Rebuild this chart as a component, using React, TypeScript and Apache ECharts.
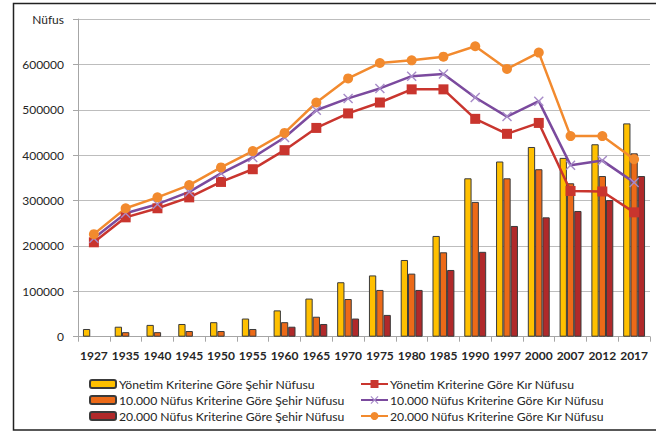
import React, { useEffect, useRef } from "react";
import * as echarts from "echarts";

const years = ["1927","1935","1940","1945","1950","1955","1960","1965","1970","1975","1980","1985","1990","1997","2000","2007","2012","2017"];

const yonetimSehir = [17000, 22000, 26000, 28000, 32000, 40000, 58000, 84000, 120000, 135000, 169000, 222000, 349000, 386000, 418000, 394000, 424000, 470000];
const sehir10k = [null, 10000, 10000, 12500, 12500, 17000, 32000, 44000, 83000, 103000, 139000, 186000, 297000, 349000, 369000, 338000, 354000, 404000];
const sehir20k = [null, null, null, null, null, null, 22000, 28000, 40000, 48000, 103000, 147000, 187000, 244000, 263000, 277000, 301000, 354000];

const yonetimKir = [208000, 263000, 283000, 307000, 341000, 369000, 411000, 460000, 492000, 516000, 545000, 545000, 480000, 447000, 471000, 321000, 320000, 274000];
const kir10k = [217000, 272000, 292000, 319000, 360000, 395000, 439000, 499000, 525000, 547000, 574000, 579000, 527000, 485000, 519000, 378000, 388000, 340000];
const kir20k = [226000, 283000, 307000, 334000, 373000, 409000, 449000, 516000, 569000, 603000, 609000, 617000, 640000, 590000, 626000, 442000, 442000, 391000];

const names = [
  "Yönetim Kriterine Göre Şehir Nüfusu",
  "10.000 Nüfus Kriterine Göre Şehir Nüfusu",
  "20.000 Nüfus Kriterine Göre Şehir Nüfusu",
  "Yönetim Kriterine Göre Kır Nüfusu",
  "10.000 Nüfus Kriterine Göre Kır Nüfusu",
  "20.000 Nüfus Kriterine Göre Kır Nüfusu",
];

const FONT = "Lato";
const TEXT = "#262626";

export default function App() {
  const ref = useRef<HTMLDivElement>(null);
  useEffect(() => {
    if (!ref.current) return;
    const chart = echarts.init(ref.current, undefined, { renderer: "svg" });
    const crossPath =
      "path://M0,1L1,0L5,4L9,0L10,1L6,5L10,9L9,10L5,6L1,10L0,9L4,5Z";
    const barCommon = (name: string, data: any[], color: string) => ({
      name,
      type: "bar",
      data,
      barWidth: 7.3,
      barGap: "0%",
      itemStyle: { color, borderColor: "#3a3a3a", borderWidth: 1 },
    });
    const lineCommon = (name: string, data: number[], color: string, symbol: string, symColor: string, size: number) => ({
      name,
      type: "line",
      data,
      symbol,
      symbolSize: size,
      lineStyle: { color, width: 2.5 },
      itemStyle: { color: symColor },
    });
    chart.setOption({
      animation: false,
      textStyle: { fontFamily: FONT },
      grid: { left: 78, right: 6, top: 19, bottom: 95.3 },
      graphic: [
        {
          type: "rect",
          shape: { x: 13.5, y: 3.5, width: 700, height: 426.5 },
          style: { fill: "none", stroke: "#222", lineWidth: 1.5 },
          silent: true,
        },
      ],
      legend: [
        {
          data: names.slice(0, 3),
          orient: "vertical",
          left: 89,
          top: 378,
          padding: 0,
          itemWidth: 26,
          itemHeight: 8,
          itemGap: 4,
          textStyle: { fontFamily: FONT, fontSize: 12.2, color: TEXT, padding: [0, 0, 0, -2] },
        },
        {
          data: names.slice(3),
          orient: "vertical",
          left: 360,
          top: 378,
          padding: 0,
          itemWidth: 27,
          itemHeight: 10,
          itemGap: 4,
          textStyle: { fontFamily: FONT, fontSize: 12.2, color: TEXT, padding: [0, 0, 0, -3] },
        },
      ],
      xAxis: {
        type: "category",
        data: years,
        boundaryGap: true,
        axisLine: { lineStyle: { color: "#a6a6a6", width: 1 } },
        axisTick: { show: true, length: 5, lineStyle: { color: "#a6a6a6" } },
        axisLabel: { color: TEXT, fontFamily: FONT, fontSize: 12, fontWeight: "bold", margin: 13, interval: 0 },
      },
      yAxis: {
        type: "value",
        min: 0,
        max: 700000,
        interval: 100000,
        axisLine: { show: true, lineStyle: { color: "#a6a6a6", width: 1 } },
        axisTick: { show: true, length: 5, lineStyle: { color: "#a6a6a6" } },
        splitLine: { lineStyle: { color: "#bdbdbd", width: 1.2 } },
        axisLabel: {
          color: TEXT,
          fontFamily: FONT,
          fontSize: 12,
          margin: 14,
          formatter: (v: number) => (v === 700000 ? "Nüfus" : String(v)),
        },
      },
      series: [
        barCommon(names[0], yonetimSehir, "#FFC000"),
        barCommon(names[1], sehir10k, "#EC6A18"),
        barCommon(names[2], sehir20k, "#B0292A"),
        lineCommon(names[3], yonetimKir, "#C9352E", "rect", "#C9352E", 10),
        lineCommon(names[4], kir10k, "#7B4A9E", crossPath, "#A78BC8", 10),
        lineCommon(names[5], kir20k, "#F28A2E", "circle", "#F28A2E", 10),
      ],
    });
    return () => chart.dispose();
  }, []);
  return (
    <div
      ref={ref}
      style={{ position: "fixed", left: 0, top: 0, width: 656, height: 432, background: "#fff" }}
    />
  );
}
